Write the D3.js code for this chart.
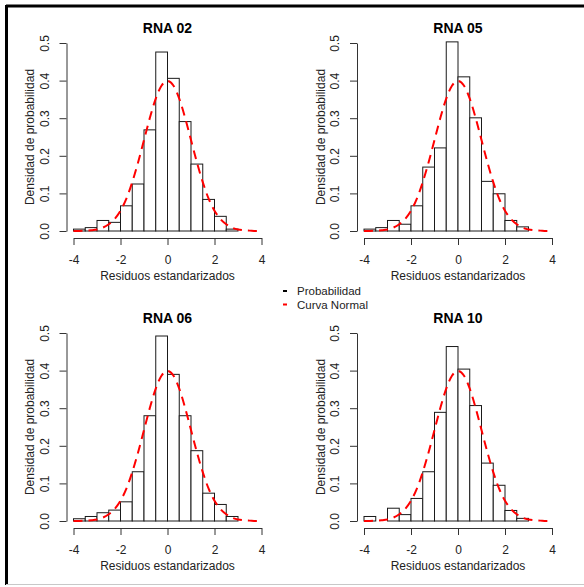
<!DOCTYPE html>
<html>
<head>
<meta charset="utf-8">
<script src="https://cdn.jsdelivr.net/npm/d3@7"></script>
<style>
  body { margin: 0; background: #fff; }
  svg { display: block; font-family: "Liberation Sans", Arial, sans-serif; }
</style>
</head>
<body>
<div id="chart"></div>
<script>
// Bin edges of the histograms (width 0.5)
const binEdges = [-4, -3.5, -3, -2.5, -2, -1.5, -1, -0.5, 0, 0.5, 1, 1.5, 2, 2.5, 3, 3.5, 4];

// Density per bin
const rna02 = [0.005, 0.009, 0.028, 0.023, 0.067, 0.125, 0.269, 0.476, 0.406, 0.291, 0.178, 0.084, 0.039, 0.005, 0, 0];
const rna05 = [0.005, 0.009, 0.028, 0.018, 0.067, 0.170, 0.221, 0.503, 0.410, 0.301, 0.132, 0.099, 0.028, 0.011, 0, 0];
const rna06 = [0.006, 0.012, 0.022, 0.029, 0.051, 0.131, 0.280, 0.492, 0.390, 0.280, 0.187, 0.074, 0.044, 0.012, 0, 0];
const rna10 = [0.012, 0, 0.034, 0.017, 0.060, 0.131, 0.289, 0.464, 0.404, 0.307, 0.154, 0.095, 0.028, 0.007, 0, 0];

// Normal curve
const curveX = [-4, -3.75, -3.5, -3.25, -3, -2.75, -2.5, -2.25, -2, -1.75, -1.5, -1.25, -1, -0.75, -0.5, -0.25, 0,
                0.25, 0.5, 0.75, 1, 1.25, 1.5, 1.75, 2, 2.25, 2.5, 2.75, 3, 3.25, 3.5, 3.75, 4];
const curveY = [0.000, 0.000, 0.001, 0.002, 0.004, 0.009, 0.018, 0.032, 0.054, 0.086, 0.130, 0.183, 0.242, 0.301, 0.352, 0.387, 0.399,
                0.387, 0.352, 0.301, 0.242, 0.183, 0.130, 0.086, 0.054, 0.032, 0.018, 0.009, 0.004, 0.002, 0.001, 0.000, 0.000];

const titles = ["RNA 02", "RNA 05", "RNA 06", "RNA 10"];
const series = [rna02, rna05, rna06, rna10];
const xTicks = [-4, -2, 0, 2, 4];
const yTicks = [0, 0.1, 0.2, 0.3, 0.4, 0.5];
const legendLabels = ["Probabilidad", "Curva Normal"];
const legendColors = ["#000", "#ff0000"];

const width = 584;
const height = 587;
const plotW = 188; // pixel span of -4..4 and of 0..0.5

const svg = d3.select("#chart")
    .append("svg")
    .attr("width", width)
    .attr("height", height);

// Frame round the picture
svg.append("line").attr("x1", 6).attr("x2", width).attr("y1", 6).attr("y2", 6)
    .attr("stroke", "#000").attr("stroke-width", 3);
svg.append("line").attr("x1", 6.5).attr("x2", 6.5).attr("y1", 5).attr("y2", 585)
    .attr("stroke", "#000").attr("stroke-width", 3);
svg.append("line").attr("x1", 6).attr("x2", width).attr("y1", 584.5).attr("y2", 584.5)
    .attr("stroke", "#c8c8c8").attr("stroke-width", 1);

titles.forEach((title, i) => {
    const col = i % 2;
    const row = Math.floor(i / 2);
    const left = 73.5 + col * 290.5;
    const base = 231 + row * 290;

    const x = d3.scaleLinear().domain([-4, 4]).range([left, left + plotW]);
    const y = d3.scaleLinear().domain([0, 0.5]).range([base, base - plotW]);

    const g = svg.append("g");

    // Bars
    const vals = series[i];
    g.selectAll("rect")
        .data(vals)
        .enter()
        .append("rect")
        .attr("x", (d, k) => x(binEdges[k]))
        .attr("y", (d) => y(d))
        .attr("width", (d, k) => x(binEdges[k + 1]) - x(binEdges[k]))
        .attr("height", (d) => y(0) - y(d))
        .attr("fill", "#fff")
        .attr("stroke", "#1a1a1a")
        .attr("stroke-width", 1);

    // Normal curve
    const line = d3.line()
        .x((d, k) => x(curveX[k]))
        .y((d) => y(d))
        .curve(d3.curveMonotoneX);
    g.append("path")
        .datum(curveY)
        .attr("d", line)
        .attr("fill", "none")
        .attr("stroke", "#ff0000")
        .attr("stroke-width", 2)
        .attr("stroke-dasharray", "9,6");

    // X axis
    const xAxis = g.append("g")
        .attr("transform", `translate(0, ${base + 7})`)
        .call(d3.axisBottom(x).tickValues(xTicks).tickSize(7).tickPadding(10).tickSizeOuter(0));
    xAxis.selectAll("text").text((d) => d).attr("font-size", 12).attr("fill", "#222")
        .attr("font-family", "Liberation Sans, Arial, sans-serif");

    // Y axis
    const yAxis = g.append("g")
        .attr("transform", `translate(${left - 7}, 0)`)
        .call(d3.axisLeft(y).tickValues(yTicks).tickSize(7).tickSizeOuter(0).tickFormat(d3.format(".1f")));
    yAxis.selectAll("text")
        .attr("transform", "rotate(-90)")
        .attr("x", 0)
        .attr("y", -22)
        .attr("dy", "0.35em")
        .attr("text-anchor", "middle")
        .attr("font-size", 12)
        .attr("fill", "#222")
        .attr("font-family", "Liberation Sans, Arial, sans-serif");

    svg.selectAll(".domain, .tick line").attr("stroke", "#333");

    // Title and axis labels
    const cx = left + plotW / 2;
    g.append("text")
        .attr("x", cx)
        .attr("y", base - 198)
        .attr("text-anchor", "middle")
        .attr("font-size", 14)
        .attr("font-weight", "bold")
        .attr("fill", "#000")
        .text(title);

    g.append("text")
        .attr("x", cx)
        .attr("y", base + 49)
        .attr("text-anchor", "middle")
        .attr("font-size", 12)
        .attr("fill", "#222")
        .text("Residuos estandarizados");

    g.append("text")
        .attr("transform", `translate(${left - 43.5}, ${base - plotW / 2}) rotate(-90)`)
        .attr("text-anchor", "middle")
        .attr("dy", "0.35em")
        .attr("font-size", 12)
        .attr("fill", "#222")
        .text("Densidad de probabilidad");
});

// Legend in the middle
const legend = svg.append("g").attr("transform", "translate(283, 291)");
legendLabels.forEach((label, i) => {
    legend.append("rect")
        .attr("x", 0)
        .attr("y", i * 13.5 - 1)
        .attr("width", 4)
        .attr("height", 2)
        .attr("fill", legendColors[i]);
    legend.append("text")
        .attr("x", 14)
        .attr("y", i * 13.5)
        .attr("dy", "0.35em")
        .attr("font-size", 11.5)
        .attr("fill", "#222")
        .text(label);
});
</script>
</body>
</html>
